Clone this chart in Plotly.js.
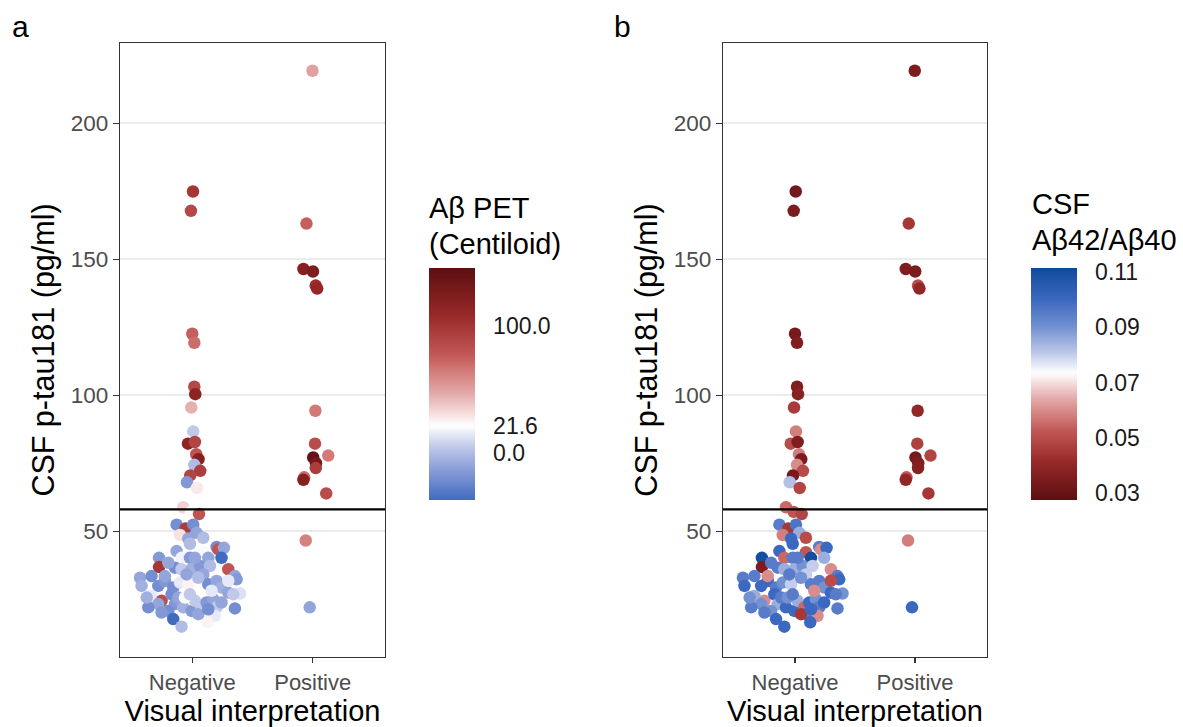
<!DOCTYPE html>
<html>
<head>
<meta charset="utf-8">
<script src="https://cdn.plot.ly/plotly-3.0.1.min.js"></script>
<style>html,body{margin:0;padding:0;background:#fff;}#chart{width:1183px;height:727px;}</style>
</head>
<body>
<div id="chart"></div>
<script>
// ---------------- data ----------------
const categories = ['Negative', 'Positive'];
const tickValsY = [50, 100, 150, 200];
const cutoff = 58;
const centiloidTicks = [0, 21.6, 100];
const centiloidTickText = ['0.0', '21.6', '100.0'];
const ratioTicks = [0.03, 0.05, 0.07, 0.09, 0.11];
const ratioTickText = ['0.03', '0.05', '0.07', '0.09', '0.11'];

// Negative visual read: horizontal jitter (category units), p-tau181, centiloid, CSF ratio
const negJitter = [0.006,-0.011,0.000,0.017,0.017,0.025,-0.008,0.008,-0.036,0.022,0.033,0.052,0.017,0.066,-0.017,-0.044,0.039,
 -0.075,-0.011,0.056,-0.130,-0.056,0.008,0.036,-0.102,-0.033,-0.019,-0.130,-0.089,-0.019,0.091,0.133,0.202,0.216,0.263,0.243,
 -0.276,-0.276,-0.144,-0.089,-0.006,0.064,0.147,0.299,0.354,0.368,-0.434,-0.421,-0.338,-0.282,-0.227,-0.158,-0.102,-0.033,-0.047,
 0.091,0.133,0.202,0.243,0.299,0.396,0.340,-0.338,-0.255,-0.282,-0.365,-0.172,-0.144,-0.199,-0.255,-0.075,-0.006,0.022,0.077,
 0.119,0.174,0.202,0.243,0.091,0.188,0.354,-0.158,-0.089,0.127,
 0.022,0.050,-0.116,0.160,-0.199,-0.227,-0.061,-0.019,0.050,0.133,-0.378,0.299,0.091];
const negPtau = [174.9,167.8,122.6,119.3,103.1,100.4,95.5,86.7,82.2,82.8,78.3,76.5,74.4,72.2,70.5,68.0,65.9,
 58.8,57.1,56.3,52.4,51.0,52.4,49.4,48.6,47.3,45.4,42.7,40.2,40.2,42.3,40.2,44.2,43.3,43.9,40.2,
 40.2,36.8,36.6,36.0,36.0,37.2,37.2,36.0,33.5,32.3,32.9,29.9,33.5,29.9,31.7,29.3,31.1,30.5,34.1,
 34.1,30.5,31.7,29.3,27.4,27.1,26.8,26.2,24.4,23.2,22.0,26.8,23.2,20.7,20.1,22.0,20.7,24.4,22.0,
 23.8,25.0,22.0,23.8,19.5,18.9,21.6,17.7,14.9,16.5,
 40.2,32.9,25.6,28.1,38.4,33.5,25.6,26.8,19.5,21.3,25.6,31.8,47.6];
const negCentiloid = [100,88,75,70,88,115,45,5,115,90,80,120,0,95,90,-15,28,
 35,22,80,-20,95,-20,-10,30,-10,0,-10,18,-15,20,-10,-20,80,-10,-37,
 -15,100,-20,5,-5,-15,0,80,-10,-15,-10,-5,-20,-20,-15,-20,15,25,-10,
 -10,-20,-10,-5,-10,12,5,15,85,-10,-20,-20,-15,-20,-15,-5,-15,5,5,
 -15,-10,5,-10,18,15,-20,-37,0,25,
 -10,0,-10,15,-10,-10,20,5,-10,-20,-5,15,0];
const negRatio = [0.033,0.035,0.034,0.036,0.036,0.038,0.046,0.058,0.050,0.036,0.058,0.035,0.060,0.050,0.034,0.082,0.048,
 0.055,0.052,0.048,0.095,0.045,0.097,0.085,0.058,0.100,0.100,0.100,0.055,0.095,0.052,0.110,0.095,0.060,0.100,0.085,
 0.110,0.035,0.095,0.085,0.085,0.090,0.080,0.060,0.095,0.100,0.095,0.100,0.095,0.100,0.100,0.095,0.090,0.080,0.095,
 0.080,0.095,0.095,0.090,0.100,0.090,0.095,0.085,0.060,0.090,0.095,0.100,0.085,0.090,0.095,0.100,0.100,0.085,0.055,
 0.100,0.090,0.095,0.100,0.095,0.060,0.095,0.100,0.100,0.100,
 0.095,0.090,0.095,0.060,0.095,0.060,0.090,0.095,0.045,0.100,0.090,0.050,0.050];

// Positive visual read
const posJitter = [-0.002,-0.052,-0.077,0.002,0.025,0.037,0.022,0.019,0.129,0.004,0.027,0.025,-0.071,-0.077,0.112,-0.058,-0.025];
const posPtau = [219.3,163.1,146.4,145.5,140.3,139.2,94.3,82.2,77.8,77.1,75.0,73.2,69.8,68.9,63.9,46.6,22.0];
const posCentiloid = [50,75,120,125,105,110,65,85,65,140,130,95,70,120,85,62,-10];
const posRatio = [0.035,0.045,0.036,0.035,0.050,0.040,0.040,0.047,0.048,0.034,0.036,0.037,0.052,0.040,0.045,0.058,0.100];

// ---------------- colour helpers (piecewise Lab interpolation) ----------------
function hex2rgb(h){h=h.replace('#','');return [0,2,4].map(i=>parseInt(h.substr(i,2),16));}
function srgb2lin(c){c/=255;return c<=0.04045?c/12.92:Math.pow((c+0.055)/1.055,2.4);}
function lin2srgb(c){c=c<=0.0031308?12.92*c:1.055*Math.pow(c,1/2.4)-0.055;return Math.max(0,Math.min(255,Math.round(c*255)));}
function rgb2lab(rgb){const [r,g,b]=rgb.map(srgb2lin);
 let x=(0.4124*r+0.3576*g+0.1805*b)/0.95047,y=(0.2126*r+0.7152*g+0.0722*b),z=(0.0193*r+0.1192*g+0.9505*b)/1.08883;
 const f=t=>t>0.008856?Math.cbrt(t):7.787*t+16/116;x=f(x);y=f(y);z=f(z);
 return [116*y-16,500*(x-y),200*(y-z)];}
function lab2rgb(lab){let y=(lab[0]+16)/116,x=lab[1]/500+y,z=y-lab[2]/200;
 const fi=t=>{const t3=t*t*t;return t3>0.008856?t3:(t-16/116)/7.787;};
 x=fi(x)*0.95047;y=fi(y);z=fi(z)*1.08883;
 const r=3.2406*x-1.5372*y-0.4986*z,g=-0.9689*x+1.8758*y+0.0415*z,b=0.0557*x-0.2040*y+1.0570*z;
 return 'rgb('+lin2srgb(r)+','+lin2srgb(g)+','+lin2srgb(b)+')';}
function rampColor(anchors,t){
 t=Math.max(0,Math.min(1,t));
 for(let i=1;i<anchors.length;i++){
  if(t<=anchors[i][0]){const a=anchors[i-1],b=anchors[i];const u=(t-a[0])/(b[0]-a[0]);
   const la=rgb2lab(hex2rgb(a[1])),lb=rgb2lab(hex2rgb(b[1]));return lab2rgb(la.map((v,k)=>v+(lb[k]-v)*u));}
 }
 return lab2rgb(rgb2lab(hex2rgb(anchors[anchors.length-1][1])));
}
function diverging(cmin,cmid,cmax,lowRamp,highRamp){
 const n=60,out=[];
 for(let i=0;i<=n;i++){const p=i/n,v=cmin+p*(cmax-cmin);
  if(v>=cmid) out.push([p,rampColor(highRamp,(v-cmid)/(cmax-cmid))]);
  else out.push([p,rampColor(lowRamp,(cmid-v)/(cmid-cmin))]);}
 return out;}

const redRamp=[[0,'#FFFFFF'],[0.2,'#E3ABAB'],[0.45,'#C25858'],[0.7,'#982828'],[1,'#5C0F12']];
const blueRampA=[[0,'#FFFFFF'],[0.3,'#BCC6E8'],[0.65,'#7E96D4'],[1,'#3F6CC0']];
const blueRampB=[[0,'#FFFFFF'],[0.2,'#BAC6E8'],[0.45,'#6E8ED0'],[0.7,'#3A68C0'],[1,'#0B4A9C']];

const clMin=-37, clMid=21.6, clMax=146;
const rMin=0.0275, rMid=0.0735, rMax=0.1115;
const scaleA = diverging(clMin,clMid,clMax,blueRampA,redRamp);
const scaleB = diverging(rMin,rMid,rMax,redRamp,blueRampB);

const xAll = negJitter.map(j=>1+j).concat(posJitter.map(j=>2+j));
const yAll = negPtau.concat(posPtau);
const clAll = negCentiloid.concat(posCentiloid);
const rAll = negRatio.concat(posRatio);

const W=1183,H=727;
const font='Liberation Sans, Arial, sans-serif';
function cb(x, vals, text){
 return {x:x,xanchor:'left',xpad:0,y:1-384/H,yanchor:'middle',ypad:0,len:232,lenmode:'pixels',
  thickness:46,outlinewidth:0,tickvals:vals,ticktext:text,ticks:'outside',ticklen:14,
  tickcolor:'rgba(0,0,0,0)',tickfont:{family:font,size:23,color:'#1a1a1a'},title:{text:''}};
}

const traces=[
 {type:'scatter',mode:'markers',x:xAll,y:yAll,xaxis:'x',yaxis:'y',hoverinfo:'skip',
  marker:{size:12.5,color:clAll,colorscale:scaleA,cmin:clMin,cmax:clMax,line:{width:0},
   colorbar:cb(429/W,centiloidTicks,centiloidTickText)}},
 {type:'scatter',mode:'markers',x:xAll,y:yAll,xaxis:'x2',yaxis:'y2',hoverinfo:'skip',
  marker:{size:12.5,color:rAll,colorscale:scaleB,cmin:rMin,cmax:rMax,line:{width:0},
   colorbar:cb(1031/W,ratioTicks,ratioTickText)}}
];

function xax(dom){return {domain:dom,range:[0.4,2.6],tickvals:[1,2],ticktext:categories,
 ticks:'outside',ticklen:5,tickwidth:1.2,tickcolor:'#333',showline:true,mirror:true,linecolor:'#333',linewidth:1.3,
 showgrid:false,zeroline:false,tickfont:{family:font,size:22,color:'#4d4d4d'},
 title:{text:'Visual interpretation',font:{family:font,size:29,color:'#000'},standoff:7},automargin:false};}
function yax(){return {domain:[1-657/H,1-43/H],range:[3.75,229.5],tickvals:tickValsY,
 ticks:'outside',ticklen:6,tickwidth:1.2,tickcolor:'#333',showline:true,mirror:true,linecolor:'#333',linewidth:1.3,
 showgrid:true,gridcolor:'#EBEBEB',gridwidth:1.6,zeroline:false,tickfont:{family:font,size:22.5,color:'#4d4d4d'},
 title:{text:'CSF p-tau181 (pg/ml)',font:{family:font,size:30.5,color:'#000'},standoff:7},automargin:false};}

const xa=xax([120/W,385/W]), xb=xax([723/W,987/W]);
const ya=yax(), yb=yax();
xa.anchor='y'; ya.anchor='x'; xb.anchor='y2'; yb.anchor='x2';

function legTitle(text,x,yBase){
 return {text:text,xref:'paper',yref:'paper',x:x/W,y:1-yBase/H,xanchor:'left',yanchor:'bottom',align:'left',
  showarrow:false,font:{family:font,size:29,color:'#000'}};}

const layout={width:W,height:H,margin:{l:0,r:0,t:0,b:0},paper_bgcolor:'#fff',plot_bgcolor:'#fff',
 showlegend:false,font:{family:font},
 xaxis:xa,yaxis:ya,xaxis2:xb,yaxis2:yb,
 shapes:[
  {type:'line',xref:'x domain',yref:'y',x0:0,x1:1,y0:cutoff,y1:cutoff,line:{color:'#000',width:2.2}},
  {type:'line',xref:'x2 domain',yref:'y2',x0:0,x1:1,y0:cutoff,y1:cutoff,line:{color:'#000',width:2.2}}
 ],
 annotations:[
  {text:'a',xref:'paper',yref:'paper',x:10/W,y:1-8/H,xanchor:'left',yanchor:'top',showarrow:false,font:{family:font,size:30,color:'#000'}},
  {text:'b',xref:'paper',yref:'paper',x:612/W,y:1-8/H,xanchor:'left',yanchor:'top',showarrow:false,font:{family:font,size:30,color:'#000'}},
  legTitle('Aβ PET',427,226),
  legTitle('(Centiloid)',427,262),
  legTitle('CSF',1030,222),
  legTitle('Aβ42/Aβ40',1030,258)
 ]};

Plotly.newPlot('chart',traces,layout,{staticPlot:true,displayModeBar:false});
</script>
</body>
</html>
